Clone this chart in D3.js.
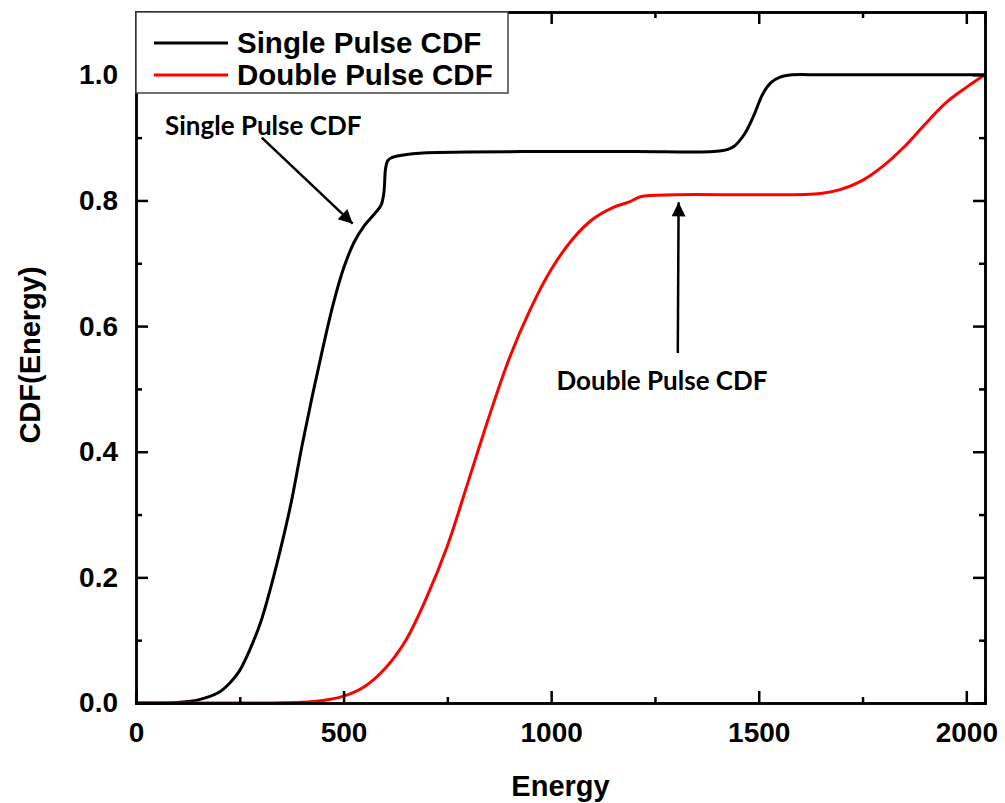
<!DOCTYPE html>
<html>
<head>
<meta charset="utf-8">
<script src="https://cdn.jsdelivr.net/npm/d3@7"></script>
<style>
  body { margin: 0; background: #fff; }
  svg text { font-family: "Liberation Sans", Arial, sans-serif; font-weight: bold; }
  .note { font-family: Lato, "Open Sans", sans-serif; font-weight: bold; }
</style>
</head>
<body>
<div id="chart"></div>
<script>
// energy values and CDF readings
var singleE   = [0, 50, 100, 150, 200, 225, 250, 275, 300, 325, 350, 375, 400, 425, 450, 475, 500, 525, 550, 575, 590, 597, 601, 606, 615, 640, 700, 800, 1000, 1200, 1410, 1440, 1465, 1488, 1510, 1530, 1550, 1580, 1650, 1800, 2045];
var singleCdf = [0, 0, 0.001, 0.005, 0.017, 0.031, 0.052, 0.086, 0.128, 0.185, 0.25, 0.323, 0.41, 0.49, 0.565, 0.635, 0.692, 0.733, 0.76, 0.779, 0.792, 0.812, 0.85, 0.863, 0.868, 0.872, 0.876, 0.877, 0.878, 0.878, 0.879, 0.886, 0.905, 0.935, 0.97, 0.988, 0.996, 1.0, 1.0, 1.0, 1.0];

var doubleE   = [0, 300, 400, 450, 500, 550, 600, 650, 700, 750, 800, 850, 900, 950, 1000, 1050, 1100, 1150, 1190, 1215, 1300, 1500, 1650, 1700, 1750, 1800, 1850, 1900, 1950, 2000, 2045];
var doubleCdf = [0, 0, 0.001, 0.004, 0.011, 0.026, 0.055, 0.1, 0.168, 0.25, 0.352, 0.455, 0.55, 0.627, 0.69, 0.737, 0.77, 0.789, 0.798, 0.806, 0.809, 0.809, 0.811, 0.818, 0.832, 0.855, 0.885, 0.921, 0.955, 0.98, 1.0];

var xMajor = [0, 500, 1000, 1500, 2000];
var xMinor = [250, 750, 1250, 1750];
var yMajor = [0, 0.2, 0.4, 0.6, 0.8, 1.0];
var yMinor = [0.1, 0.3, 0.5, 0.7, 0.9];

var seriesNames  = ["Single Pulse CDF", "Double Pulse CDF"];
var seriesColors = ["#000000", "#ff0000"];

var margin = {top: 12, right: 20, bottom: 100, left: 136},
    width = 1005 - margin.left - margin.right,
    height = 803 - margin.top - margin.bottom;

var svg = d3.select("#chart")
  .append("svg")
  .attr("width", 1005)
  .attr("height", 803);

var defs = svg.append("defs");
defs.append("marker")
  .attr("id", "head")
  .attr("viewBox", "0 0 10 10")
  .attr("refX", 10).attr("refY", 5)
  .attr("markerWidth", 16).attr("markerHeight", 14)
  .attr("markerUnits", "userSpaceOnUse")
  .attr("orient", "auto")
  .append("path")
  .attr("d", "M0,0 L10,5 L0,10 Z")
  .attr("fill", "#000");

var g = svg.append("g")
  .attr("transform", "translate(" + margin.left + "," + margin.top + ")");

var x = d3.scaleLinear().domain([0, 2045]).range([0, width]);
var y = d3.scaleLinear().domain([0, 1.1]).range([height, 0]);

// curves
var line = d3.line()
  .x(function(d) { return x(d[0]); })
  .y(function(d) { return y(d[1]); })
  .curve(d3.curveCatmullRom.alpha(0.5));

var singleData = d3.zip(singleE, singleCdf);
var doubleData = d3.zip(doubleE, doubleCdf);

g.append("path").datum(singleData)
  .attr("d", line).attr("fill", "none")
  .attr("stroke", seriesColors[0]).attr("stroke-width", 3);

g.append("path").datum(doubleData)
  .attr("d", line).attr("fill", "none")
  .attr("stroke", seriesColors[1]).attr("stroke-width", 3);

// axes, ticks pointing inward
function styleAxis(sel) {
  sel.selectAll(".domain").attr("stroke-width", 2.5);
  sel.selectAll(".tick line").attr("stroke-width", 2.5);
  sel.selectAll("text").attr("font-size", 28).attr("fill", "#000");
}

g.append("g").attr("transform", "translate(0," + height + ")")
  .call(d3.axisBottom(x).tickValues(xMajor).tickSize(-12).tickPadding(19).tickFormat(d3.format("d")))
  .call(styleAxis);
g.append("g").attr("transform", "translate(0," + height + ")")
  .call(d3.axisBottom(x).tickValues(xMinor).tickSize(-6).tickFormat(""))
  .call(styleAxis);
g.append("g")
  .call(d3.axisLeft(y).tickValues(yMajor).tickSize(-12).tickPadding(18).tickFormat(d3.format(".1f")))
  .call(styleAxis);
g.append("g")
  .call(d3.axisLeft(y).tickValues(yMinor).tickSize(-6).tickFormat(""))
  .call(styleAxis);

// mirrored top and right
g.append("g")
  .call(d3.axisTop(x).tickValues(xMajor).tickSize(-12).tickFormat(""))
  .call(styleAxis);
g.append("g")
  .call(d3.axisTop(x).tickValues(xMinor).tickSize(-6).tickFormat(""))
  .call(styleAxis);
g.append("g").attr("transform", "translate(" + width + ",0)")
  .call(d3.axisRight(y).tickValues(yMajor).tickSize(-12).tickFormat(""))
  .call(styleAxis);
g.append("g").attr("transform", "translate(" + width + ",0)")
  .call(d3.axisRight(y).tickValues(yMinor).tickSize(-6).tickFormat(""))
  .call(styleAxis);

// axis titles
g.append("text")
  .attr("x", width / 2).attr("y", 796 - margin.top)
  .attr("text-anchor", "middle").attr("font-size", 29)
  .text("Energy");
g.append("text")
  .attr("transform", "translate(" + (40 - margin.left) + "," + (355 - margin.top) + ") rotate(-90)")
  .attr("text-anchor", "middle").attr("font-size", 29)
  .text("CDF(Energy)");

// legend
var legend = g.append("g");
legend.append("rect")
  .attr("x", 0).attr("y", 0).attr("width", 372).attr("height", 81)
  .attr("fill", "#fff").attr("stroke", "#444").attr("stroke-width", 1.5);
seriesNames.forEach(function(name, i) {
  var ly = 31 + i * 32;
  legend.append("line")
    .attr("x1", 18).attr("x2", 92).attr("y1", ly).attr("y2", ly)
    .attr("stroke", seriesColors[i]).attr("stroke-width", 3);
  legend.append("text")
    .attr("x", 101).attr("y", ly + 10)
    .attr("font-size", 29.5)
    .text(name);
});

// annotations
g.append("text").attr("class", "note")
  .attr("x", x(70)).attr("y", y(0.904))
  .attr("font-size", 26)
  .text("Single Pulse CDF");
g.append("line")
  .attr("x1", x(303)).attr("y1", y(0.9))
  .attr("x2", x(522)).attr("y2", y(0.763))
  .attr("stroke", "#000").attr("stroke-width", 2.5)
  .attr("marker-end", "url(#head)");

g.append("text").attr("class", "note")
  .attr("x", x(1267)).attr("y", y(0.498))
  .attr("text-anchor", "middle")
  .attr("font-size", 26)
  .text("Double Pulse CDF");
g.append("line")
  .attr("x1", x(1305)).attr("y1", y(0.557))
  .attr("x2", x(1307)).attr("y2", y(0.797))
  .attr("stroke", "#000").attr("stroke-width", 2.5)
  .attr("marker-end", "url(#head)");
</script>
</body>
</html>
